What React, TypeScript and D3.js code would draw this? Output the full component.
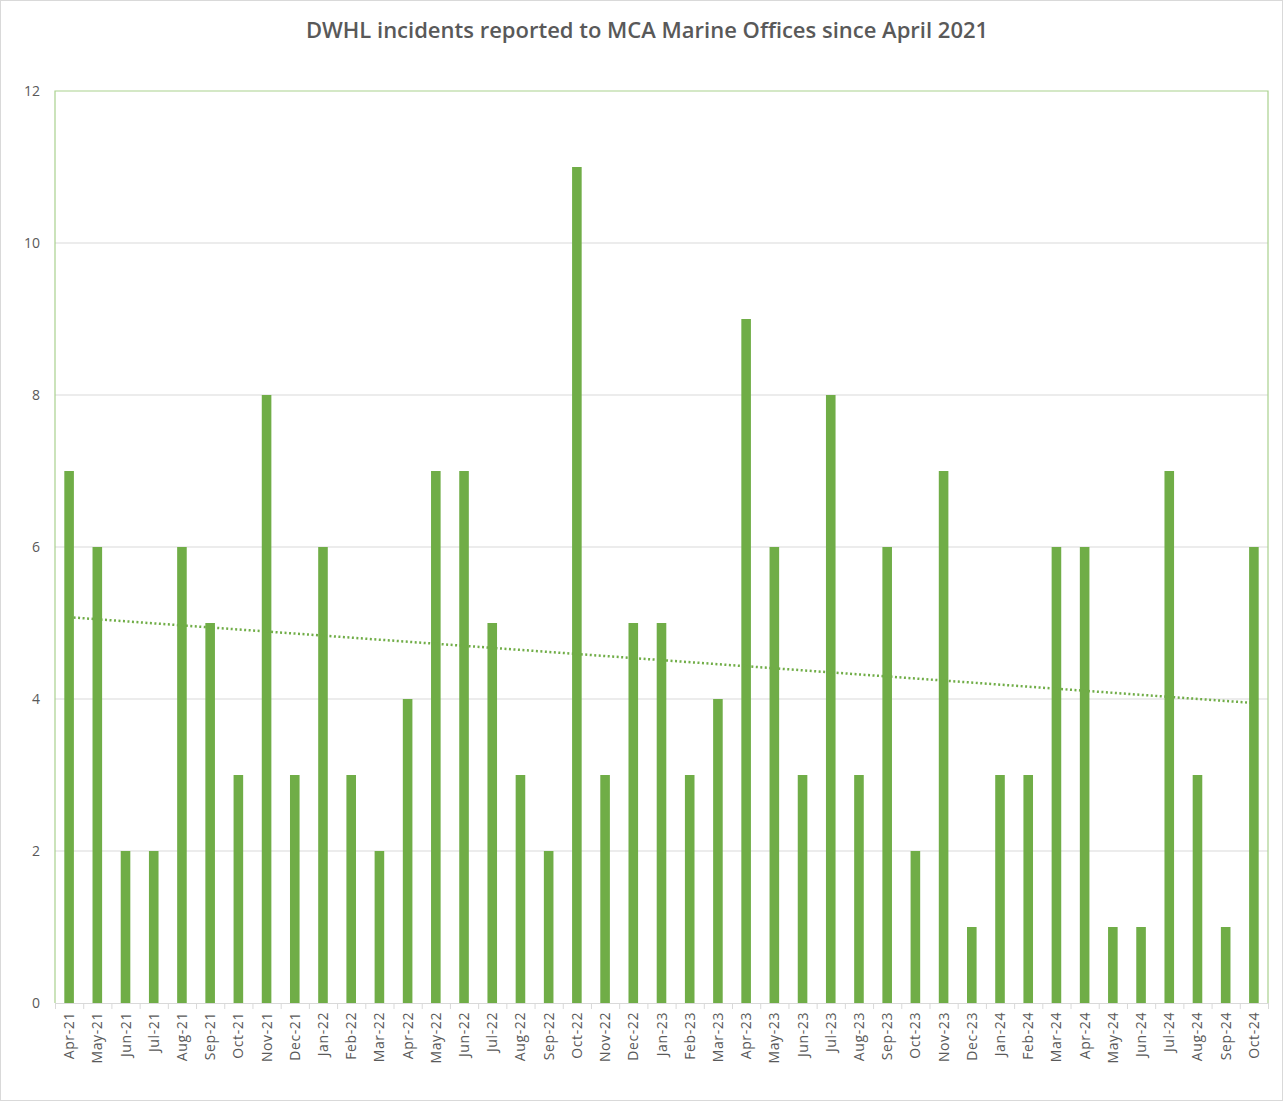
import React from "react";
import * as d3 from "d3";

const categories = [
  "Apr-21","May-21","Jun-21","Jul-21","Aug-21","Sep-21","Oct-21","Nov-21","Dec-21",
  "Jan-22","Feb-22","Mar-22","Apr-22","May-22","Jun-22","Jul-22","Aug-22","Sep-22","Oct-22","Nov-22","Dec-22",
  "Jan-23","Feb-23","Mar-23","Apr-23","May-23","Jun-23","Jul-23","Aug-23","Sep-23","Oct-23","Nov-23","Dec-23",
  "Jan-24","Feb-24","Mar-24","Apr-24","May-24","Jun-24","Jul-24","Aug-24","Sep-24","Oct-24",
];
const incidents = [
  7,6,2,2,6,5,3,8,3,
  6,3,2,4,7,7,5,3,2,11,3,5,
  5,3,4,9,6,3,8,3,6,2,7,1,
  3,3,6,6,1,1,7,3,1,6,
];
const yTicks = [0,2,4,6,8,10,12];
const title = "DWHL incidents reported to MCA Marine Offices since April 2021";

const W = 1283, H = 1101;
const M = { left: 55, right: 1268, top: 91, bottom: 1003 };
const GREEN = "#70ad47";
const BORDER = "#a9d18e";
const GRID = "#d9d9d9";
const TEXT = "#595959";
const FONT = "'Open Sans', 'Liberation Sans', sans-serif";

export default function App() {
  const x = d3.scaleBand<string>().domain(categories).range([M.left, M.right]).paddingInner(0.66).paddingOuter(0.33);
  const band = d3.scaleBand<string>().domain(categories).range([M.left, M.right]);
  const y = d3.scaleLinear().domain([0, 12]).range([M.bottom, M.top]);

  // linear regression trendline
  const n = incidents.length;
  const xs = incidents.map((_, i) => i + 1);
  const mx = d3.mean(xs)!;
  const my = d3.mean(incidents)!;
  const slope = d3.sum(xs.map((xi, i) => (xi - mx) * (incidents[i] - my))) / d3.sum(xs.map((xi) => (xi - mx) ** 2));
  const intercept = my - slope * mx;
  const cx = (c: string) => band(c)! + band.bandwidth() / 2;
  const trend = d3.line<number>()
    .x((i) => cx(categories[i]))
    .y((i) => y(intercept + slope * (i + 1)));
  const trendPath = trend([0, n - 1])!;

  return (
    <svg width={W} height={H} style={{ position: "absolute", left: 0, top: 0, background: "#fff" }}>
      <rect x={0.5} y={0.5} width={W - 1} height={H - 1} fill="#fff" stroke={GRID} />
      <text x={647} y={38} textAnchor="middle" fontFamily={FONT} fontSize={22} fontWeight={600} fill={TEXT}>{title}</text>
      {yTicks.filter((t) => t > 0 && t < 12).map((t) => (
        <line key={t} x1={M.left} x2={M.right} y1={y(t)} y2={y(t)} stroke={GRID} strokeWidth={1} />
      ))}
      {yTicks.map((t) => (
        <text key={"yl" + t} x={40} y={y(t) + 5} textAnchor="end" fontFamily={FONT} fontSize={14} fill={TEXT}>{t}</text>
      ))}
      {categories.map((c, i) => (
        <rect key={c} x={x(c)} y={y(incidents[i])} width={x.bandwidth()} height={M.bottom - y(incidents[i])} fill={GREEN} />
      ))}
      <path d={trendPath} fill="none" stroke={GREEN} strokeWidth={2.5} strokeDasharray="2 2.5" />
      {/* plot area border */}
      <polyline points={`${M.left},${M.bottom} ${M.left},${M.top} ${M.right},${M.top} ${M.right},${M.bottom}`} fill="none" stroke={BORDER} strokeWidth={1.2} />
      {/* x axis */}
      <line x1={M.left} x2={M.right} y1={M.bottom + 0.5} y2={M.bottom + 0.5} stroke={GRID} strokeWidth={1} />
      {categories.map((c) => (
        <line key={"t" + c} x1={band(c)! + 0.5} x2={band(c)! + 0.5} y1={M.bottom} y2={M.bottom + 6} stroke={GRID} />
      ))}
      <line x1={M.right + 0.5} x2={M.right + 0.5} y1={M.bottom} y2={M.bottom + 6} stroke={GRID} />
      {categories.map((c) => (
        <text key={"xl" + c} transform={`translate(${cx(c) + 5},${M.bottom + 9}) rotate(-90)`} textAnchor="end" fontFamily={FONT} fontSize={14} letterSpacing={0.6} fill={TEXT}>{c}</text>
      ))}
    </svg>
  );
}
